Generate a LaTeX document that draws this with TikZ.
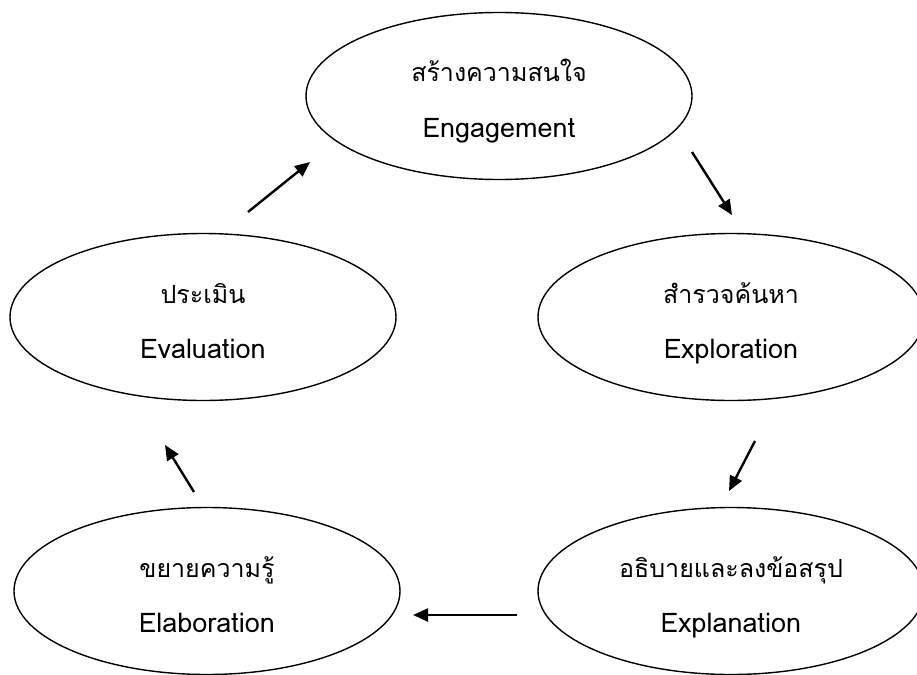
\documentclass[tikz,border=0pt]{standalone}
\usepackage{fontspec}
\newfontfamily\thaifont[Script=Thai]{Loma}
\usetikzlibrary{arrows.meta,calc,shapes.geometric}
\begin{document}
\begin{tikzpicture}[x=1pt,y=-1pt,
  stage/.style={draw=black, line width=1.4pt, ellipse, minimum width=386pt, minimum height=167pt, inner sep=0pt},
  lbl/.style={anchor=base, inner sep=0pt, font=\thaifont\fontsize{25}{29}\selectfont},
  lble/.style={lbl, font=\thaifont\fontsize{27}{31}\selectfont},
  flow/.style={line width=2.4pt, -{Triangle[length=15pt,width=13pt]}}]
\useasboundingbox (0,0) rectangle (917,674);
\clip (0,0) rectangle (917,674);
% stages
\node[stage] (eng) at (499,96) {};
\node[stage] (exp) at (731,317) {};
\node[stage] (expl) at (731,591) {};
\node[stage] (ela) at (207,591) {};
\node[stage] (eva) at (203,317) {};
% labels
\node[lbl] (engT) at ($(eng)+(0,-14)$) {สร้างความสนใจ};
\node[lble] (engE) at ($(eng)+(0,41)$) {Engagement};
\node[lbl] (expT) at ($(exp)+(0,-14)$) {สำรวจค้นหา};
\node[lble] (expE) at ($(exp)+(0,41)$) {Exploration};
\node[lbl] (explT) at ($(expl)+(0,-14)$) {อธิบายและลงข้อสรุป};
\node[lble] (explE) at ($(expl)+(0,41)$) {Explanation};
\node[lbl] (elaT) at ($(ela)+(0,-14)$) {ขยายความรู้};
\node[lble] (elaE) at ($(ela)+(0,41)$) {Elaboration};
\node[lbl] (evaT) at ($(eva)+(0,-14)$) {ประเมิน};
\node[lble] (evaE) at ($(eva)+(0,41)$) {Evaluation};
% arrow ends
\coordinate (a1s) at (248,212); \coordinate (a1e) at (310,162);
\coordinate (a2s) at (692,152); \coordinate (a2e) at (732,215);
\coordinate (a3s) at (755,441); \coordinate (a3e) at (729,491);
\coordinate (a4s) at (517,615); \coordinate (a4e) at (413,615);
\coordinate (a5s) at (194,492); \coordinate (a5e) at (165,445);
\draw[flow] (a1s) -- (a1e);
\draw[flow] (a2s) -- (a2e);
\draw[flow] (a3s) -- (a3e);
\draw[flow] (a4s) -- (a4e);
\draw[flow] (a5s) -- (a5e);
\end{tikzpicture}
\end{document}
